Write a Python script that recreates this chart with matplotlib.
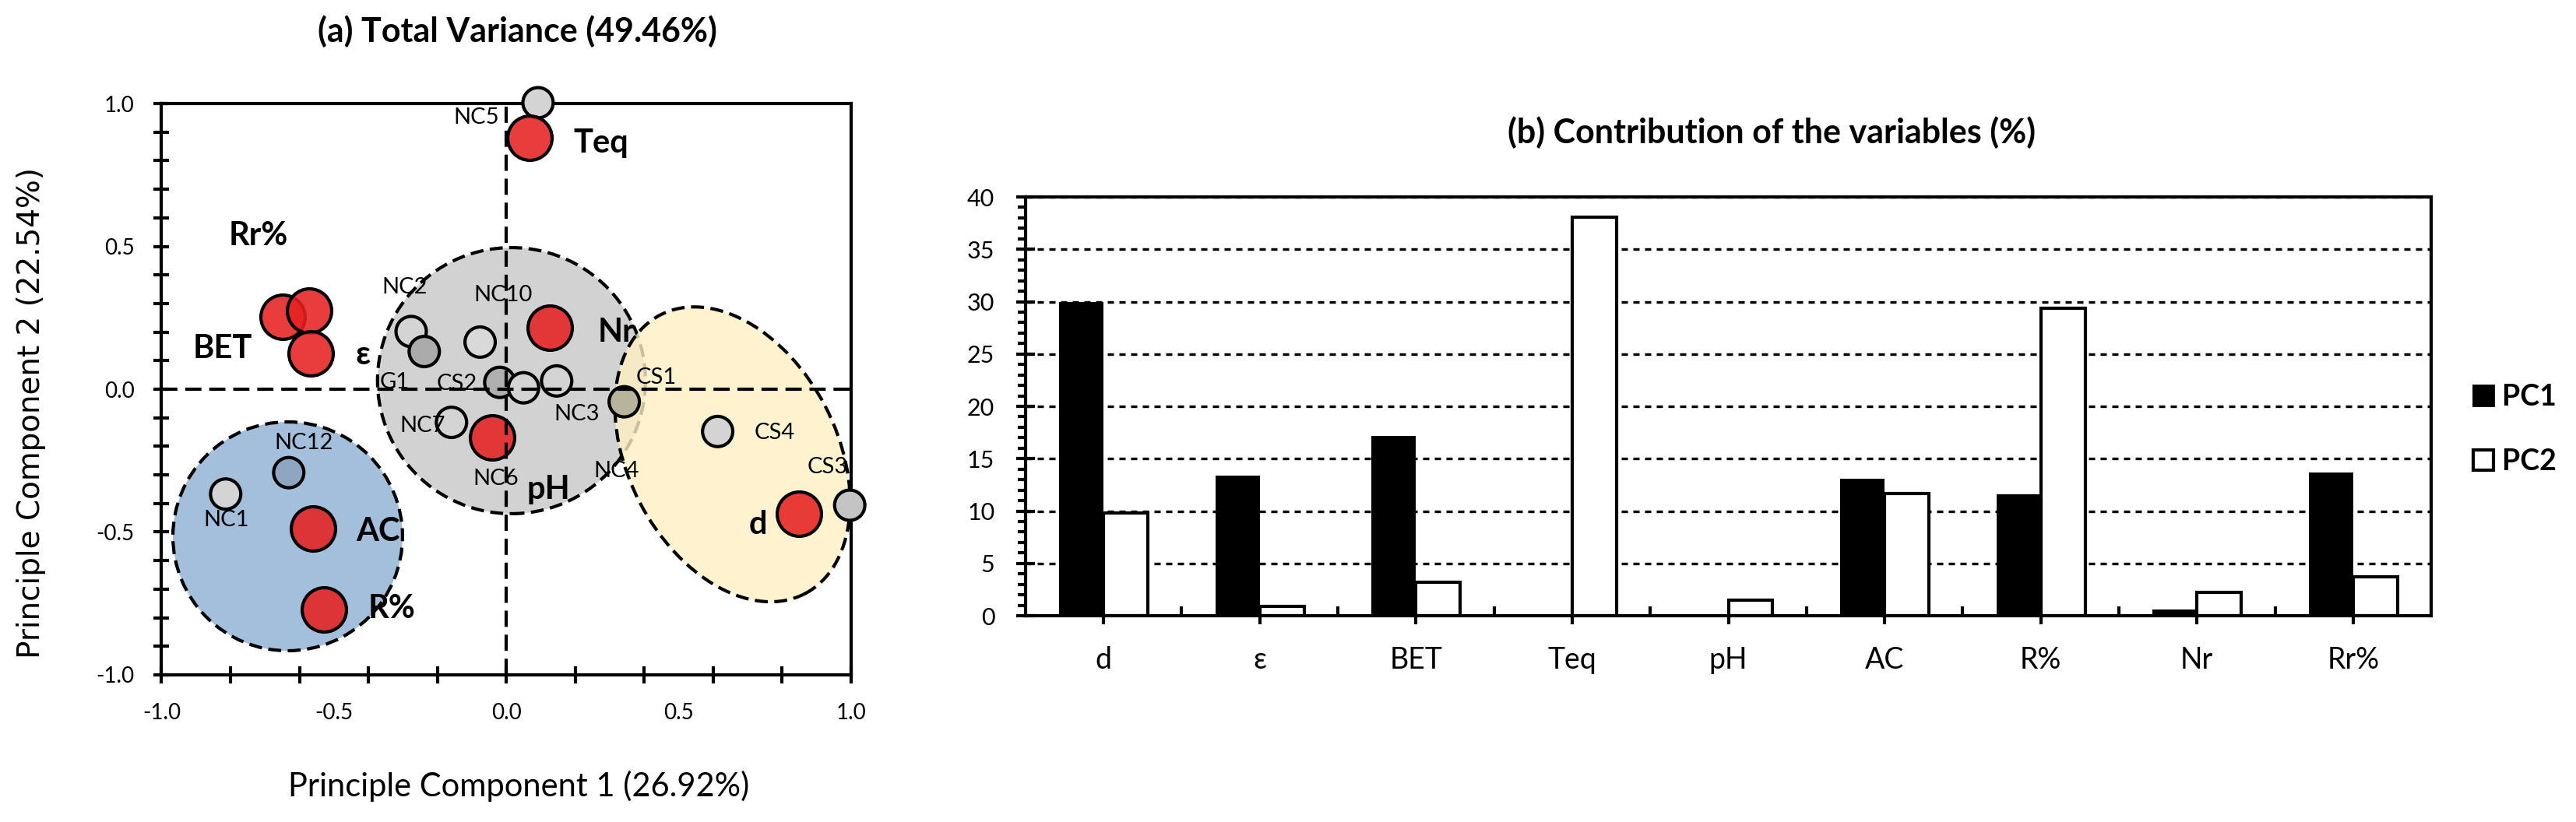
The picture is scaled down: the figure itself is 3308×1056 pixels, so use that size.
import numpy as np
import matplotlib
matplotlib.use('Agg')
import matplotlib.pyplot as plt
import matplotlib.transforms as mtransforms
from matplotlib.patches import Ellipse, Patch

plt.rcParams['font.family'] = ['Lato', 'DejaVu Sans']

# (a) variables on the PC1/PC2 plane (red circles)
var_names = ['BET', 'Rr%', 'ε', 'Teq', 'Nr', 'pH', 'AC', 'R%', 'd']
var_pc1 = [-0.648, -0.572, -0.568, 0.067, 0.125, -0.041, -0.561, -0.529, 0.849]
var_pc2 = [0.254, 0.275, 0.125, 0.879, 0.214, -0.170, -0.487, -0.771, -0.435]

# (a) samples (grey circles)
sample_names = ['NC1', 'NC2', 'NC3', 'NC5', 'NC7', 'NC10', 'NC12', 'G1',
                'CS1', 'CS2', 'CS3', 'CS4', '']
sample_pc1 = [-0.814, -0.276, 0.146, 0.092, -0.159, -0.076, -0.631, -0.238,
              0.342, -0.019, 0.996, 0.613, 0.050]
sample_pc2 = [-0.367, 0.202, 0.029, 1.003, -0.116, 0.165, -0.292, 0.132,
              -0.044, 0.024, -0.406, -0.148, 0.005]
sample_colors = ['#d4d4d4', '#d4d4d4', '#d4d4d4', '#d4d4d4', '#d4d4d4',
                 '#d9d9d9', '#8ea6bf', '#ababab', '#b8b49c', '#afafaf',
                 '#c4c4c4', '#d4d4d4', '#d4d4d4']

# (b) contribution of the variables (%)
cats = ['d', 'ε', 'BET', 'Teq', 'pH', 'AC', 'R%', 'Nr', 'Rr%']
pc1 = [30.0, 13.4, 17.2, 0.0, 0.0, 13.1, 11.6, 0.6, 13.7]
pc2 = [9.8, 0.9, 3.2, 38.1, 1.5, 11.7, 29.4, 2.2, 3.7]

# label placement (data coords of the text centre)
var_label_pos = {'Teq': (0.275, 0.861), 'Rr%': (-0.718, 0.537), 'BET': (-0.822, 0.142),
                 'ε': (-0.415, 0.12), 'Nr': (0.32, 0.20), 'pH': (0.122, -0.351),
                 'd': (0.73, -0.475), 'AC': (-0.373, -0.499), 'R%': (-0.332, -0.768)}
sample_label_pos = {'NC5': (-0.086, 0.951), 'NC2': (-0.296, 0.357), 'NC10': (-0.01, 0.33),
                    'G1': (-0.325, 0.025), 'CS2': (-0.144, 0.019), 'NC3': (0.205, -0.087),
                    'CS1': (0.434, 0.04), 'NC7': (-0.244, -0.128), 'NC6': (-0.03, -0.313),
                    'NC4': (0.32, -0.286), 'CS4': (0.779, -0.152), 'CS3': (0.932, -0.272),
                    'NC12': (-0.587, -0.188), 'NC1': (-0.813, -0.458)}

fig = plt.figure(figsize=(33.08, 10.56), dpi=100)
ax1 = fig.add_axes([0.0627, 0.179, 0.2677, 0.695])
ax2 = fig.add_axes([0.3981, 0.2509, 0.5457, 0.5095])

# ---------- (a) scatter ----------
ax1.set_xlim(-1, 1)
ax1.set_ylim(-1, 1)
for s in ax1.spines.values():
    s.set_linewidth(3)

# groups drawn in an "equal pixel" space so circles stay round
fw, fh = fig.get_size_inches() * fig.dpi
pos = ax1.get_position()
k = (pos.width * fw / 2) / (pos.height * fh / 2)
iso = mtransforms.Affine2D().scale(1, k) + ax1.transData

groups = [((0.015, 0.030), 0.777, 0.772, 0, '#d2d2d2', 1.0, 1.0),
          ((-0.634, -0.515), 0.666, 0.664, 0, '#a3bfdb', 1.0, 1.1),
          ((0.656, -0.228), 0.606, 0.911, 27.4, '#fff0c4', 0.8, 1.2)]
for (cx, cy), w, h, ang, col, a, z in groups:
    e = Ellipse((cx, cy / k), w, h, angle=ang, transform=iso, facecolor=col, alpha=a,
                edgecolor='none', zorder=z)
    ax1.add_patch(e)
    e2 = Ellipse((cx, cy / k), w, h, angle=ang, transform=iso, facecolor='none',
                 edgecolor='black', linewidth=3, linestyle=(0, (4, 2)), zorder=z + 0.05)
    ax1.add_patch(e2)

ax1.scatter(sample_pc1, sample_pc2, s=784, c=sample_colors, edgecolors='black',
            linewidths=3, zorder=3, clip_on=False)
ax1.scatter(var_pc1, var_pc2, s=1680, facecolors=(0.90, 0.13, 0.13, 0.88),
            edgecolors='black', linewidths=3, zorder=3.5, clip_on=False)

ax1.axhline(0, color='black', linewidth=3, linestyle=(0, (5, 2.4)), zorder=4, clip_on=False)
ax1.axvline(0, color='black', linewidth=3, linestyle=(0, (5, 2.4)), zorder=4)

for name, (tx, ty) in var_label_pos.items():
    ax1.text(tx, ty, name, ha='center', va='center', fontsize=30, fontweight='bold', zorder=6)
for name, (tx, ty) in sample_label_pos.items():
    ax1.text(tx, ty, name, ha='center', va='center', fontsize=21, zorder=6)

ax1.set_xticks([-1, -0.5, 0, 0.5, 1])
ax1.set_xticklabels(['-1.0', '-0.5', '0.0', '0.5', '1.0'])
ax1.set_xticks(np.linspace(-1, 1, 11), minor=True)
ax1.xaxis.remove_overlapping_locs = False
ax1.tick_params(axis='x', which='major', length=0, pad=26, labelsize=20)
ax1.tick_params(axis='x', which='minor', direction='inout', length=16, width=3)
ax1.set_yticks([-1, -0.5, 0, 0.5, 1])
ax1.set_yticklabels(['-1.0', '-0.5', '0.0', '0.5', '1.0'])
ax1.set_yticks(np.linspace(-1, 1, 21), minor=True)
ax1.tick_params(axis='y', which='both', direction='inout', length=14, width=3)
ax1.tick_params(axis='y', which='major', pad=18, labelsize=20)

fig.text(0.201, 0.962, '(a) Total Variance (49.46%)', ha='center', va='center',
         fontsize=31, fontweight='bold')
fig.text(0.2013, 0.0436, 'Principle Component 1 (26.92%)', ha='center', va='center',
         fontsize=30)
fig.text(0.0121, 0.498, 'Principle Component 2 (22.54%)', ha='center', va='center',
         rotation=90, fontsize=28, family='DejaVu Sans')

# ---------- (b) bars ----------
x = np.arange(len(cats))
bw = 0.284
ax2.bar(x - bw / 2, pc1, bw, color='black', linewidth=0, zorder=2)
ax2.bar(x + bw / 2, pc2, bw, color='white', edgecolor='black', linewidth=3, zorder=2)

ax2.set_xlim(-0.5, len(cats) - 0.5)
ax2.set_ylim(0, 40)
for s in ax2.spines.values():
    s.set_linewidth(3)
    s.set_zorder(3)
ax2.set_xticks(x)
ax2.set_xticklabels(cats)
ax2.set_xticks(np.arange(0.5, len(cats) - 1, 1), minor=True)
ax2.tick_params(axis='x', which='major', direction='out', length=8, width=3,
                labelsize=27, pad=20)
ax2.tick_params(axis='x', which='minor', direction='in', length=9, width=3)
ax2.set_yticks(range(0, 41, 5))
ax2.set_yticks(range(0, 41), minor=True)
ax2.tick_params(axis='y', which='major', direction='inout', length=17, width=3,
                labelsize=22, pad=20)
ax2.tick_params(axis='y', which='minor', direction='out', length=7, width=3)
ax2.yaxis.grid(True, which='major', color='black', linewidth=2.4,
               linestyle=(0, (2.4, 2.1)), zorder=1)
ax2.set_axisbelow(True)

fig.text(0.6877, 0.839, '(b) Contribution of the variables (%)', ha='center',
         va='center', fontsize=31, fontweight='bold')

handles = [Patch(facecolor='black', edgecolor='black', linewidth=2),
           Patch(facecolor='white', edgecolor='black', linewidth=3)]
fig.legend(handles, ['PC1', 'PC2'], loc='center left', bbox_to_anchor=(0.9600, 0.4777),
           frameon=False, prop={'weight': 'bold', 'size': 27}, handlelength=0.7,
           handleheight=0.7, handletextpad=0.3, labelspacing=1.3, borderpad=0,
           borderaxespad=0)

fig.savefig('out.png', dpi=100)
